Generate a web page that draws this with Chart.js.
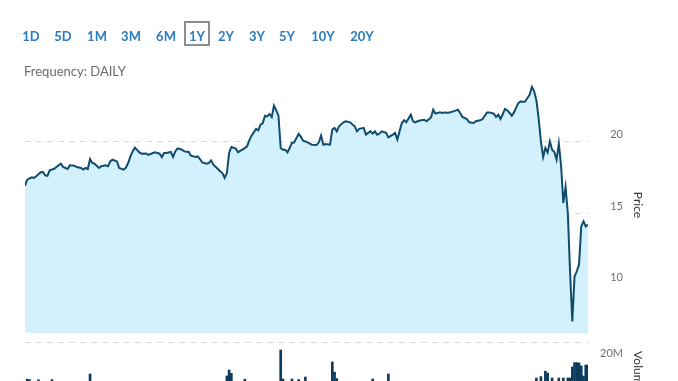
<!DOCTYPE html>
<html><head><meta charset="utf-8">
<script src="https://cdn.jsdelivr.net/npm/chart.js@4.4.1/dist/chart.umd.min.js"></script>
<style>
html,body{margin:0;padding:0;background:#fff;width:678px;height:381px;overflow:hidden;}
#wrap{position:relative;width:678px;height:381px;overflow:hidden;background:#fff;}
canvas{position:absolute;left:0;}
#pc{top:0;}
#vc{top:330px;}
.btn{position:absolute;top:28px;transform:translateX(-50%);font:bold 13px Lato,sans-serif;color:#2a7bc0;line-height:16px;white-space:nowrap;}
.sel{position:absolute;left:184px;top:21px;width:26px;height:25px;box-sizing:border-box;border:2px solid #8c8c8c;}
#freq{position:absolute;left:24px;top:63px;font:13px Lato,sans-serif;color:#6b6b6b;line-height:16px;white-space:nowrap;}
</style></head>
<body><div id="wrap">
<canvas id="pc" width="678" height="345"></canvas>
<canvas id="vc" width="678" height="90"></canvas>
<div class="sel"></div>
<span class="btn" style="left:31px">1D</span>
<span class="btn" style="left:63px">5D</span>
<span class="btn" style="left:97px">1M</span>
<span class="btn" style="left:131px">3M</span>
<span class="btn" style="left:166px">6M</span>
<span class="btn" style="left:197px">1Y</span>
<span class="btn" style="left:226px">2Y</span>
<span class="btn" style="left:257px">3Y</span>
<span class="btn" style="left:287px">5Y</span>
<span class="btn" style="left:323px">10Y</span>
<span class="btn" style="left:362px">20Y</span>
<div id="freq">Frequency: DAILY</div>
</div>
<script>
// trading-day index (0 = first day of the 1Y window)
const priceDays = [0,1,3,4,5,7,8,9,10,11,13,14,16,17,19,20,22,23,25,26,27,28,29,30,31,33,34,36,37,38,39,41,42,44,45,46,47,48,49,51,52,54,55,57,58,60,61,62,63,65,66,67,68,70,71,73,74,76,77,78,79,81,82,83,84,86,87,88,89,90,91,92,94,95,96,97,99,100,101,102,103,104,105,106,107,108,109,110,111,112,113,114,115,116,117,118,119,120,122,123,124,126,127,128,130,131,132,133,134,136,137,138,139,140,142,143,145,146,147,148,149,151,152,153,154,155,156,157,158,159,161,162,164,165,166,167,168,169,170,172,173,174,175,176,178,179,181,182,183,185,186,187,188,189,190,191,193,194,195,197,198,200,201,203,204,206,207,209,210,211,212,213,214,215,216,217,218,219,220,221,222,223,224,225,226,227,228,229,230,231,232,233,234,235,236,237,238,239,240,241,242,243,244,245,246,247,248,249,250,251];
const prices = [16.91,17.33,17.49,17.45,17.56,17.84,17.86,17.63,17.59,17.98,18.09,18.21,18.44,18.21,18.07,18.33,18.30,18.21,18.14,18.03,18.14,18.07,18.77,18.49,18.44,18.14,18.26,18.33,18.26,18.60,18.72,18.60,18.14,18.03,18.16,18.49,18.95,19.30,19.56,19.23,19.14,19.16,19.05,19.19,19.23,19.14,18.91,19.19,19.19,19.26,18.91,19.30,19.51,19.42,19.30,19.26,19.00,18.91,18.95,18.77,18.53,18.44,18.49,18.67,18.37,18.07,17.91,17.79,17.45,17.79,19.19,19.61,19.49,19.23,19.35,19.42,19.65,20.07,20.40,20.63,20.87,20.77,21.17,21.28,21.79,21.74,21.91,21.70,22.49,22.16,21.79,19.54,19.42,19.42,19.23,19.54,19.89,19.93,20.52,20.31,20.05,19.93,19.84,19.77,19.75,19.93,20.40,19.77,19.82,19.77,20.82,20.94,20.70,21.05,21.33,21.40,21.33,21.17,21.05,20.70,20.87,20.94,20.47,20.59,20.70,20.54,20.70,20.47,20.54,20.70,20.59,20.28,20.47,20.59,20.12,20.70,21.28,21.47,21.33,21.86,21.40,21.33,21.40,21.45,21.51,21.40,21.67,22.21,21.93,22.02,21.98,22.02,22.00,22.02,22.05,22.09,22.21,21.98,21.70,21.56,21.33,21.28,21.40,21.47,21.56,22.02,22.02,21.93,21.70,21.86,21.56,21.90,22.26,22.16,22.00,21.79,22.02,22.35,22.68,22.79,22.75,22.79,23.03,23.26,23.80,23.49,22.85,21.60,20.00,18.91,19.54,19.23,20.00,19.42,19.25,18.72,19.84,18.30,15.70,16.82,15.00,10.90,7.44,10.58,10.93,11.40,14.07,14.42,14.07,14.19];

const volumeDays = [1,2,6,12,29,90,91,92,98,114,115,119,122,125,137,138,139,155,162,228,230,232,233,235,238,240,242,243,244,245,246,247,248,249,250,251];
const volumesM = [10.4,10.2,10.1,10.2,13,12,15,13.3,10.4,25,10.5,10.5,10.2,11.5,19,13.9,10.7,10.5,13,11,11.7,14.4,13.5,11,11,11,11,11,16.5,18.7,18.7,18.5,17,12,17.5,17.5];

const priceTicks = [10, 15, 20];
const volumeTicksM = [20, 29];
const volumeLabelTicksM = [20];

const LAST_DAY = 251;
const PRICE_MIN = 6.63, PRICE_MAX = 24.49;
const VOL_MAX_M = 29;

const lineColor = '#0f4c6e';
const fillColor = '#d3f1fc';
const gridColor = '#dadada';

const priceData = priceDays.map((d, i) => ({x: d, y: prices[i]}));
const volumeData = volumeDays.map((d, i) => ({x: d, y: volumesM[i] * 1e6}));

const common = {
  responsive: false,
  animation: false,
  events: [],
  plugins: {legend: {display: false}, tooltip: {enabled: false}, title: {display: false}}
};

// axis box: 588..623 (labels right-aligned at 623), title pushed out to ~639
const axisWidth = 35;
const titleFont = {family: 'Lato', size: 12};
const titlePad = {top: -22.5, bottom: 0};

new Chart(document.getElementById('pc'), {
  type: 'line',
  data: {datasets: [{
    data: priceData,
    borderColor: lineColor,
    borderWidth: 2,
    backgroundColor: fillColor,
    fill: 'start',
    pointRadius: 0,
    tension: 0
  }]},
  options: Object.assign({}, common, {
    layout: {padding: {left: 25, right: 55, top: 77, bottom: 12}},
    scales: {
      x: {type: 'linear', display: false, min: 0, max: LAST_DAY, offset: false},
      y: {
        type: 'linear', position: 'right', min: PRICE_MIN, max: PRICE_MAX,
        afterBuildTicks: s => { s.ticks = priceTicks.map(v => ({value: v})); },
        afterFit: s => { s.width = axisWidth; },
        grid: {color: gridColor, lineWidth: 1, drawTicks: false, borderDash: [6, 5]},
        border: {display: false, dash: [6, 5]},
        ticks: {
          crossAlign: 'far', padding: 0, labelOffset: -7,
          color: '#6f6f6f', font: {family: 'Lato', size: 11},
          callback: v => String(v)
        },
        title: {display: true, text: 'Price', color: '#333', font: titleFont, padding: titlePad}
      }
    }
  })
});

new Chart(document.getElementById('vc'), {
  type: 'bar',
  data: {datasets: [{
    data: volumeData,
    backgroundColor: '#0d3b5e',
    borderWidth: 0,
    barThickness: 2
  }]},
  options: Object.assign({}, common, {
    layout: {padding: {left: 25, right: 55, top: 12, bottom: 20}},
    scales: {
      x: {type: 'linear', display: false, min: 0, max: LAST_DAY, offset: false},
      y: {
        type: 'linear', position: 'right', min: 0, max: VOL_MAX_M * 1e6,
        afterBuildTicks: s => { s.ticks = volumeTicksM.map(v => ({value: v * 1e6})); },
        afterFit: s => { s.width = axisWidth; },
        grid: {
          color: c => (c.tick && c.tick.value === VOL_MAX_M * 1e6) ? gridColor : 'rgba(0,0,0,0)',
          lineWidth: 1, drawTicks: false, borderDash: [6, 5]
        },
        border: {display: false, dash: [6, 5]},
        ticks: {
          crossAlign: 'far', padding: 0, labelOffset: -7,
          color: '#6f6f6f', font: {family: 'Lato', size: 11},
          callback: v => volumeLabelTicksM.includes(v / 1e6) ? (v / 1e6) + 'M' : ''
        },
        title: {display: true, text: 'Volume', color: '#333', font: titleFont, padding: titlePad}
      }
    }
  })
});
</script>
</body></html>
